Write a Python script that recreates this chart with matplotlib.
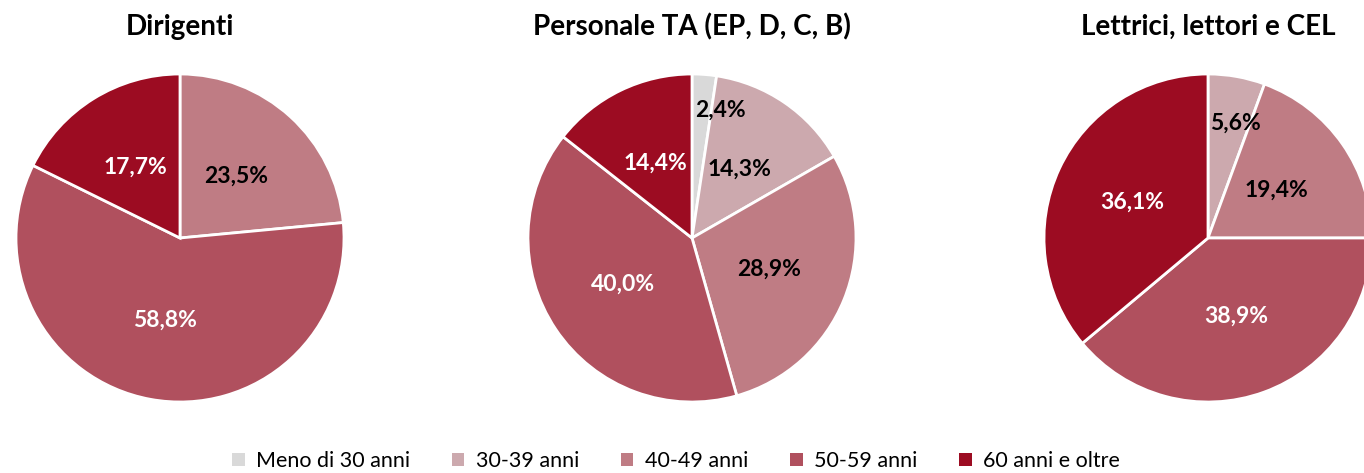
import matplotlib
matplotlib.use("Agg")
import matplotlib.pyplot as plt
from matplotlib.patches import Patch
import numpy as np

plt.rcParams['font.family'] = ['Lato', 'DejaVu Sans']

categories = ["Meno di 30 anni", "30-39 anni", "40-49 anni", "50-59 anni", "60 anni e oltre"]
colors = ["#D9D9D9", "#CCA9AE", "#BF7C84", "#B0505E", "#9C0C22"]
label_colors = ["black", "black", "black", "white", "white"]

titles = ["Dirigenti", "Personale TA (EP, D, C, B)", "Lettrici, lettori e CEL"]
dirigenti = [0.0, 0.0, 23.5, 58.8, 17.7]
personale = [2.4, 14.3, 28.9, 40.0, 14.4]
lettori = [0.0, 5.6, 19.4, 38.9, 36.1]
series = [dirigenti, personale, lettori]

W, H = 1364, 473
fig = plt.figure(figsize=(W / 100, H / 100), dpi=100)
R = 164
centers = [(180, 238), (692, 238), (1208, 238)]

# per-label placement tweaks (radius fraction, angle offset deg) for small slices
tweaks = {(1, 0): (0.80, 8.0), (2, 1): (0.72, 3.5)}

for i, (vals, title, (cx, cy)) in enumerate(zip(series, titles, centers)):
    ax = fig.add_axes([(cx - R) / W, (H - cy - R) / H, 2 * R / W, 2 * R / H])
    idx = [k for k, v in enumerate(vals) if v > 0]
    v = [vals[k] for k in idx]
    wedges, _ = ax.pie(v, colors=[colors[k] for k in idx], startangle=90, counterclock=False,
                       radius=1, wedgeprops=dict(edgecolor="white", linewidth=2.0))
    for w, k in zip(wedges, idx):
        mid = (w.theta1 + w.theta2) / 2
        rf, off = tweaks.get((i, k), (0.51, 0.0))
        a = np.deg2rad(mid - off)
        ax.text(rf * np.cos(a), rf * np.sin(a), f"{vals[k]:.1f}".replace(".", ",") + "%",
                ha="center", va="center", fontsize=16.5, fontweight="bold", color=label_colors[k])
    ax.set_xlim(-1, 1)
    ax.set_ylim(-1, 1)
    ax.set_aspect("equal")
    ax.axis("off")
    fig.text(cx / W, 1 - 27 / H, title, ha="center", va="center", fontsize=20, fontweight="bold")

handles = [Patch(facecolor=c, edgecolor="none") for c in colors]
fig.legend(handles, categories, loc="center", bbox_to_anchor=(676 / W, 1 - 461 / H), ncol=5,
           frameon=False, prop={"size": 15.5},
           handlelength=0.6, handleheight=0.6, handletextpad=0.55, columnspacing=1.9)

fig.savefig("out.png", dpi=100)
